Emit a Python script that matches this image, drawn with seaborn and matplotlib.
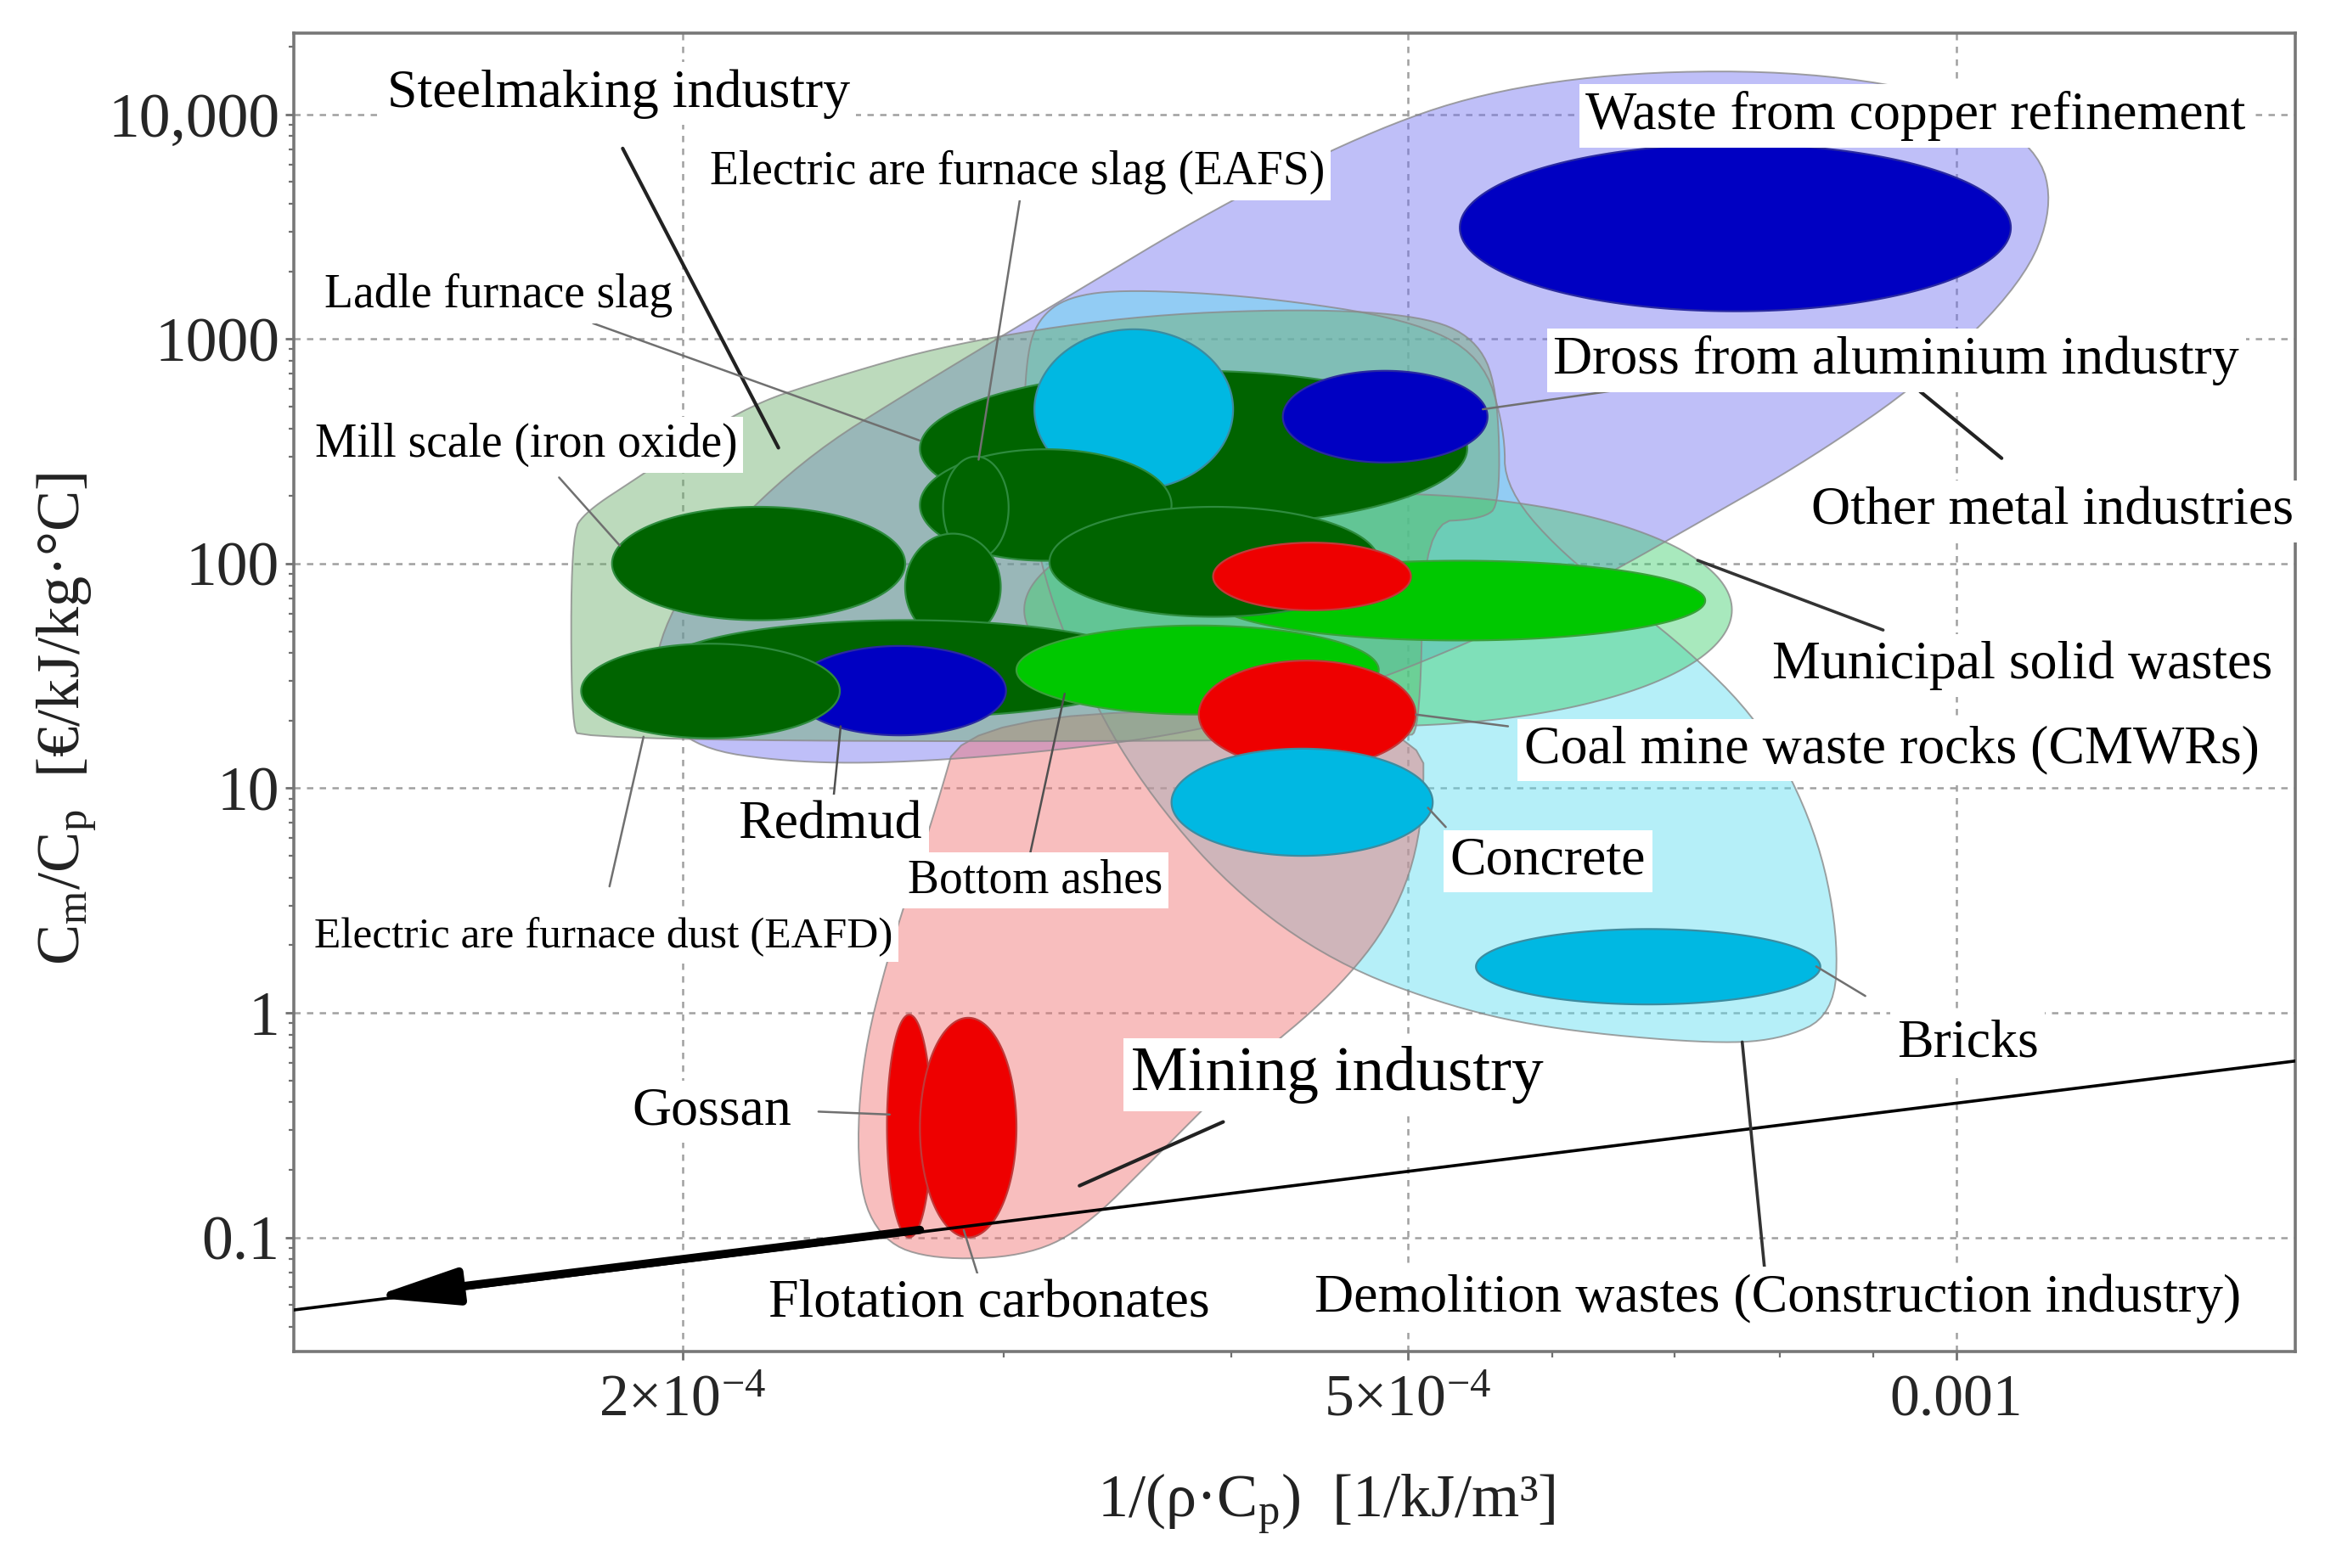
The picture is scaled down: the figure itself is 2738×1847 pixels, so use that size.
import numpy as np
import matplotlib
matplotlib.use("Agg")
import matplotlib.pyplot as plt
import seaborn as sns
from matplotlib.ticker import FixedLocator, FixedFormatter, LogLocator, NullFormatter

# ---------------- data ----------------
# Material ranges: x = 1/(rho*Cp) [1/kJ/m3], y = Cm/Cp [EUR/kJ/kg C]
mat_names = ["Waste from copper refinement", "Ladle furnace slag", "Other metal (cyan)",
             "Dross from aluminium industry", "Steel slag A", "EAFS", "Steel slag B",
             "Mill scale", "Municipal solid wastes", "Steel slag C", "Mining (red)",
             "Steel slag D", "Redmud", "EAFD", "Bottom ashes", "CMWRs", "Concrete",
             "Bricks", "Gossan", "Flotation carbonates"]
mat_group = ["blue", "dgreen", "cyan", "blue", "dgreen", "dgreen", "dgreen", "dgreen",
             "lgreen", "dgreen", "red", "dgreen", "blue", "dgreen", "lgreen", "red",
             "cyan", "cyan", "red", "red"]
x_lo = [5.34e-4, 2.70e-4, 3.12e-4, 4.27e-4, 2.70e-4, 2.78e-4, 2.65e-4, 1.83e-4, 3.92e-4, 3.18e-4,
        3.91e-4, 1.94e-4, 2.30e-4, 1.76e-4, 3.05e-4, 3.84e-4, 3.71e-4, 5.45e-4, 2.59e-4, 2.70e-4]
x_hi = [1.071e-3, 5.39e-4, 4.01e-4, 5.53e-4, 3.71e-4, 3.02e-4, 2.99e-4, 2.65e-4, 7.28e-4, 4.82e-4,
        5.02e-4, 3.64e-4, 3.01e-4, 2.44e-4, 4.82e-4, 5.05e-4, 5.16e-4, 8.42e-4, 2.74e-4, 3.05e-4]
y_lo = [1330, 147, 214, 282, 103, 105, 45.5, 56, 45.5, 58,
        62, 20.7, 17.2, 16.7, 21.3, 12.3, 5.0, 1.09, 0.10, 0.10]
y_hi = [7380, 722, 1105, 722, 323, 300, 136, 179, 103, 179,
        124, 56, 43, 44, 53, 37, 15, 2.36, 0.98, 0.95]

# Industry envelopes (outline vertices)
metal_x = [2.038e-4, 1.945e-4, 1.926e-4, 2.038e-4, 2.323e-4, 2.698e-4, 3.254e-4, 3.924e-4, 4.732e-4,
           5.496e-4, 6.627e-4, 8.299e-4, 1.0005e-3, 1.109e-3, 1.130e-3, 1.0885e-3, 9.637e-4,
           8.299e-4, 7.278e-4, 6.384e-4, 5.496e-4, 4.558e-4, 3.779e-4, 3.135e-4, 2.599e-4, 2.280e-4]
metal_y = [15.0, 22.0, 40.3, 100.3, 290, 621, 1545, 3841, 8208,
           12560, 15535, 15535, 12000, 7052, 3841, 1797, 670,
           290, 158, 86.2, 46.9, 25.6, 17.5, 14.4, 12.9, 13.1]

constr_x = [3.135e-4, 3.254e-4, 3.508e-4, 4.151e-4, 5.005e-4, 5.496e-4, 5.652e-4, 5.652e-4, 6.149e-4,
            7.009e-4, 7.846e-4, 8.376e-4, 8.613e-4, 8.565e-4, 7.993e-4, 7.278e-4, 6.035e-4,
            5.295e-4, 4.558e-4, 3.998e-4, 3.573e-4, 3.316e-4, 3.135e-4, 3.076e-4, 3.088e-4]
constr_y = [1229, 1545, 1666, 1545, 1229, 841, 394, 214, 100.3,
            46.9, 18.9, 6.52, 2.25, 0.976, 0.754, 0.731, 0.839,
            1.053, 1.66, 3.55, 10.3, 29.8, 100.3, 338, 841]

mining_x = [2.854e-4, 5.100e-4, 5.100e-4, 4.912e-4, 4.558e-4, 4.073e-4, 3.641e-4, 3.316e-4,
            3.076e-4, 2.749e-4, 2.575e-4, 2.494e-4, 2.504e-4, 2.599e-4, 2.749e-4]
mining_y = [22.0, 22.0, 6.52, 2.62, 1.226, 0.574, 0.2306, 0.1079,
            0.0821, 0.0796, 0.0955, 0.170, 0.574, 1.93, 7.59]

steel_x = [1.761e-4, 1.738e-4, 1.738e-4, 1.771e-4, 1.891e-4, 2.156e-4, 2.412e-4, 2.801e-4, 3.508e-4,
           4.390e-4, 5.100e-4, 5.445e-4, 5.600e-4, 5.621e-4, 5.496e-4, 5.100e-4, 5.081e-4, 4.986e-4]
steel_y = [16.2, 19.5, 136, 171, 242, 494, 670, 950, 1267,
           1367, 1267, 1009, 621, 184, 158, 153, 18.9, 16.2]

msw_env_x = [3.08e-4, 7.53e-4]
msw_env_y = [18.9, 205]

# Guide line (slope 1 in log-log) and arrow
guide_x = [1.224e-4, 1.534e-3]
guide_y = [0.0475, 0.61]
arrow_x = [2.70e-4, 1.35e-4]
arrow_y = [0.108, 0.054]

y_ticks = [0.1, 1, 10, 100, 1000, 10000]
y_tick_labels = ["0.1", "1", "10", "100", "1000", "10,000"]
x_ticks = [2e-4, 5e-4, 1e-3]
x_tick_labels = [r"$\mathregular{2{\times}10^{-4}}$", r"$\mathregular{5{\times}10^{-4}}$", "0.001"]

# ---------------- style ----------------
sns.set_theme(style="white")
plt.rcParams['font.family'] = ['Liberation Serif', 'DejaVu Serif']
plt.rcParams['mathtext.fontset'] = 'custom'
plt.rcParams['mathtext.rm'] = 'Liberation Serif'
plt.rcParams['mathtext.it'] = 'Liberation Serif:italic'

face = {"blue": "#0000C2", "dgreen": "#006400", "cyan": "#00B8E2", "red": "#EE0000", "lgreen": "#00C800"}
edge = {"blue": "#2A2AA0", "dgreen": "#2E8B3E", "cyan": "#3C8CA0", "red": "#C03A3A", "lgreen": "#3AA03A"}

fig = plt.figure(figsize=(27.38, 18.47), dpi=100)
ax = fig.add_axes([0.1263, 0.138, 0.8609, 0.841])
ax.set_xscale('log')
ax.set_yscale('log')
ax.set_xlim(1.224e-4, 1.534e-3)
ax.set_ylim(0.031, 23070)


def smooth_closed(xs, ys, iters=3):
    p = np.column_stack([np.log10(xs), np.log10(ys)])
    for _ in range(iters):
        q = np.roll(p, -1, axis=0)
        a = 0.75 * p + 0.25 * q
        b = 0.25 * p + 0.75 * q
        r = np.empty((2 * len(p), 2))
        r[0::2] = a
        r[1::2] = b
        p = r
    return 10 ** p[:, 0], 10 ** p[:, 1]


def ellipse_pts(xl, xh, yl, yh, n=240):
    t = np.linspace(0, 2 * np.pi, n)
    lx0, lx1 = np.log10([xl, xh])
    ly0, ly1 = np.log10([yl, yh])
    cx, cy = (lx0 + lx1) / 2, (ly0 + ly1) / 2
    rx, ry = (lx1 - lx0) / 2, (ly1 - ly0) / 2
    return 10 ** (cx + rx * np.cos(t)), 10 ** (cy + ry * np.sin(t))


# envelopes
for xs, ys, col in [(metal_x, metal_y, "#7272F0"), (constr_x, constr_y, "#5CDDF0"),
                    (mining_x, mining_y, "#F07070"), (steel_x, steel_y, "#6BAE6B")]:
    sx, sy = smooth_closed(xs, ys)
    ax.fill(sx, sy, facecolor=col, alpha=0.45, edgecolor="none", zorder=1)
    ax.fill(sx, sy, facecolor="none", edgecolor="#8A8A8A", lw=1.4, alpha=0.8, zorder=1.1)

ex, ey = ellipse_pts(msw_env_x[0], msw_env_x[1], msw_env_y[0], msw_env_y[1])
ax.fill(ex, ey, facecolor="#3ECF6E", alpha=0.45, edgecolor="none", zorder=1)
ax.fill(ex, ey, facecolor="none", edgecolor="#8A8A8A", lw=1.4, alpha=0.8, zorder=1.1)

# material ellipses
for i in range(len(mat_names)):
    ex, ey = ellipse_pts(x_lo[i], x_hi[i], y_lo[i], y_hi[i])
    g = mat_group[i]
    ax.fill(ex, ey, facecolor=face[g], edgecolor=edge[g], lw=1.6, zorder=2 + i * 0.01)

# guide line and arrow
sns.lineplot(x=guide_x, y=guide_y, color="black", lw=2.6, ax=ax, zorder=4)
ax.annotate("", xy=(arrow_x[1], arrow_y[1]), xytext=(arrow_x[0], arrow_y[0]),
            arrowprops=dict(arrowstyle="-|>,head_length=1.5,head_width=0.32", color="black",
                            lw=7, mutation_scale=40, shrinkA=0, shrinkB=0), zorder=4)

# leader lines (axes fraction)
leaders = [
    (0.1644, 0.9124, 0.2422, 0.6854, "#222222", 3.0),   # Steelmaking
    (0.3630, 0.8753, 0.3422, 0.6764, "#707070", 1.8),   # EAFS
    (0.1496, 0.7798, 0.3126, 0.6910, "#707070", 1.8),   # Ladle
    (0.1326, 0.6629, 0.1630, 0.6112, "#707070", 1.8),   # Mill scale
    (0.1748, 0.4663, 0.1578, 0.3528, "#707070", 1.8),   # EAFD
    (0.2733, 0.4742, 0.2696, 0.4180, "#505050", 1.8),   # Redmud
    (0.3852, 0.4989, 0.3681, 0.3787, "#505050", 1.8),   # Bottom ashes
    (0.5607, 0.4831, 0.6067, 0.4742, "#707070", 1.8),   # CMWR
    (0.5667, 0.4124, 0.5756, 0.3978, "#707070", 1.8),   # Concrete
    (0.7607, 0.2921, 0.7852, 0.2697, "#707070", 1.8),   # Bricks
    (0.5941, 0.7146, 0.6667, 0.7303, "#707070", 1.8),   # Dross
    (0.8126, 0.7281, 0.8533, 0.6775, "#222222", 3.0),   # Other metal
    (0.7015, 0.6000, 0.7941, 0.5472, "#333333", 2.6),   # MSW
    (0.7237, 0.2348, 0.7348, 0.0640, "#333333", 2.6),   # Demolition
    (0.3926, 0.1258, 0.4644, 0.1742, "#222222", 3.0),   # Mining
    (0.2622, 0.1820, 0.2978, 0.1798, "#707070", 1.8),   # Gossan
    (0.3348, 0.0921, 0.3422, 0.0562, "#707070", 1.8),   # Flotation
]
for x1, y1, x2, y2, c, lw in leaders:
    ax.annotate("", xy=(x2, y2), xytext=(x1, y1), xycoords="axes fraction", textcoords="axes fraction",
                arrowprops=dict(arrowstyle="-", color=c, lw=lw, shrinkA=0, shrinkB=0), zorder=5)

labels = [
    ("Steelmaking industry", 0.1622, 0.9539, 46),
    ("Electric are furnace slag (EAFS)", 0.3615, 0.8944, 40),
    ("Ladle furnace slag", 0.1022, 0.8011, 40),
    ("Mill scale (iron oxide)", 0.1163, 0.6876, 40),
    ("Waste from copper refinement", 0.8104, 0.9371, 46),
    ("Dross from aluminium industry", 0.8007, 0.7517, 46),
    ("Other metal industries", 0.8785, 0.6371, 46),
    ("Municipal solid wastes", 0.8637, 0.5202, 46),
    ("Coal mine waste rocks (CMWRs)", 0.7985, 0.4562, 46),
    ("Concrete", 0.6267, 0.3719, 46),
    ("Redmud", 0.2681, 0.3989, 46),
    ("Bottom ashes", 0.3704, 0.3573, 40),
    ("Electric are furnace dust (EAFD)", 0.1548, 0.3146, 37),
    ("Bricks", 0.8363, 0.2337, 46),
    ("Mining industry", 0.5215, 0.2101, 54),
    ("Gossan", 0.2089, 0.1820, 46),
    ("Flotation carbonates", 0.3474, 0.0360, 46),
    ("Demolition wastes (Construction industry)", 0.7415, 0.0404, 46),
]
for txt, fx, fy, fs in labels:
    ax.text(fx, fy, txt, transform=ax.transAxes, ha="center", va="center", fontsize=fs,
            color="black", zorder=6,
            bbox=dict(boxstyle="square,pad=0.12", fc="white", ec="none"))

# axes, ticks, grid
ax.yaxis.set_major_locator(FixedLocator(y_ticks))
ax.yaxis.set_major_formatter(FixedFormatter(y_tick_labels))
ax.yaxis.set_minor_locator(LogLocator(base=10, subs=np.arange(2, 10), numticks=30))
ax.yaxis.set_minor_formatter(NullFormatter())
ax.xaxis.set_major_locator(FixedLocator(x_ticks))
ax.xaxis.set_major_formatter(FixedFormatter(x_tick_labels))
ax.xaxis.set_minor_locator(LogLocator(base=10, subs=np.arange(1, 10), numticks=30))
ax.xaxis.set_minor_formatter(NullFormatter())

ax.tick_params(axis="y", which="major", direction="out", length=7, width=2, color="#707070",
               labelsize=53, pad=5, left=True)
ax.tick_params(axis="y", which="minor", direction="out", length=4, width=1.6, color="#707070", left=True)
ax.tick_params(axis="x", which="major", direction="out", length=7, width=2, color="#707070",
               labelsize=50, pad=12, bottom=True)
ax.tick_params(axis="x", which="minor", direction="out", length=5, width=1.6, color="#707070", bottom=True)

ax.set_axisbelow(True)
ax.grid(True, which="major", linestyle=(0, (3, 3)), color="#A0A0A0", lw=1.8)
for s in ax.spines.values():
    s.set_color("#777777")
    s.set_linewidth(2.6)

ax.text(-0.113, 0.48, r"C$_{\mathregular{m}}$/C$_{\mathregular{p}}$  [€/kJ/kg·°C]",
        transform=ax.transAxes, rotation=90, ha="center", va="center", fontsize=52, color="#222222")
ax.text(0.516, -0.116, r"1/(ρ·C$_{\mathregular{p}}$)  [1/kJ/m³]",
        transform=ax.transAxes, ha="center", va="center", fontsize=52, color="#222222")

fig.savefig("out.png", dpi=100)
